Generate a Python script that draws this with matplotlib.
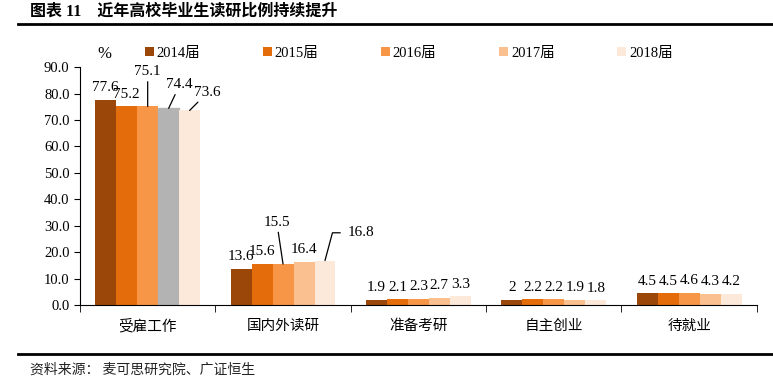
import matplotlib
matplotlib.use("Agg")
import matplotlib.pyplot as plt
import numpy as np

plt.rcParams['font.family'] = ['Liberation Serif', 'Noto Sans CJK SC']

# datos
categorias = ['受雇工作', '国内外读研', '准备考研', '自主创业', '待就业']
series = ['2014届', '2015届', '2016届', '2017届', '2018届']
v2014 = [77.6, 13.6, 1.9, 2.0, 4.5]
v2015 = [75.2, 15.6, 2.1, 2.2, 4.5]
v2016 = [75.1, 15.5, 2.3, 2.2, 4.6]
v2017 = [74.4, 16.4, 2.7, 1.9, 4.3]
v2018 = [73.6, 16.8, 3.3, 1.8, 4.2]
valores = [v2014, v2015, v2016, v2017, v2018]
colores = ['#9A4709', '#E46C0A', '#F79646', '#FAC090', '#FDE9D9']

fig = plt.figure(figsize=(7.73, 3.9), dpi=100)
ax = fig.add_axes([0.1035, 0.218, 0.8755, 0.61])

x = np.arange(len(categorias))
ancho = 0.155
barras = []
for i, (nombre, vals) in enumerate(zip(series, valores)):
    b = ax.bar(x + (i - 2) * ancho, vals, ancho, color=colores[i], label=nombre)
    barras.append(b)

# etiquetas de valor (algunas con línea guía)
guias = {
    (2, 0): (0, 25),
    (3, 0): (8, 17),
    (4, 0): (13, 13),
    (2, 1): (-4.5, 30),
}
for i, vals in enumerate(valores):
    for j, v in enumerate(vals):
        xc = x[j] + (i - 2) * ancho
        txt = format(v, 'g')
        if (i, j) in guias:
            ax.annotate(txt, xy=(xc, v), xytext=guias[(i, j)], textcoords='offset points',
                        ha='center', va='center', fontsize=11,
                        arrowprops=dict(arrowstyle='-', color='black', lw=0.9,
                                        shrinkA=0.5, shrinkB=0))
        elif (i, j) == (4, 1):
            ax.annotate(txt, xy=(xc, v), xytext=(16, 20), textcoords='offset points',
                        ha='left', va='center', fontsize=11,
                        arrowprops=dict(arrowstyle='-', color='black', lw=0.9,
                                        shrinkA=3, shrinkB=0, relpos=(0, 0.5),
                                        connectionstyle='angle,angleA=0,angleB=75,rad=0'))
        else:
            ax.annotate(txt, xy=(xc, v), xytext=(0, 4), textcoords='offset points',
                        ha='center', va='bottom', fontsize=11)

ax.set_xlim(-0.5, len(categorias) - 0.5)
ax.set_ylim(0, 90)
ax.set_yticks(np.arange(0, 91, 10))
ax.set_yticklabels([f'{t:.1f}' for t in np.arange(0, 91, 10)], fontsize=10.5)
ax.set_xticks(x)
ax.set_xticklabels(categorias, fontsize=10.5, family='Noto Sans CJK SC')
ax.tick_params(axis='x', length=0, pad=10)
ax.set_xticks(np.arange(-0.5, len(categorias), 1), minor=True)
ax.tick_params(axis='x', which='minor', length=5, direction='out')
ax.tick_params(axis='y', length=4, direction='out')
for lado in ['top', 'right']:
    ax.spines[lado].set_visible(False)

ax.text(0.025, 1.02, '%', transform=ax.transAxes, fontsize=12, ha='left', va='bottom')

leg = ax.legend(loc='lower left', bbox_to_anchor=(0.085, 1.0), ncol=5, frameon=False,
                fontsize=10.5, handlelength=0.6, handleheight=0.6, handletextpad=0.2,
                columnspacing=4.3, borderaxespad=0.1)

# la barra 2017 de "受雇工作" aparece en gris en el original (la leyenda no)
barras[3][0].set_color('#B3B3B3')

# título y fuente
fig.text(30 / 773, 1 - 12 / 390, '图表 11    近年高校毕业生读研比例持续提升',
         fontsize=11.5, fontweight='bold', ha='left', va='center')
fig.add_artist(plt.Line2D([18 / 773, 1], [1 - 24 / 390] * 2, color='black', lw=2))
fig.add_artist(plt.Line2D([18 / 773, 1], [1 - 354 / 390] * 2, color='black', lw=2))
fig.text(30 / 773, 1 - 370 / 390, '资料来源： 麦可思研究院、广证恒生', family='Noto Sans CJK SC',
         fontsize=10, ha='left', va='center', color='#222222')

fig.savefig('out.png', dpi=100)
